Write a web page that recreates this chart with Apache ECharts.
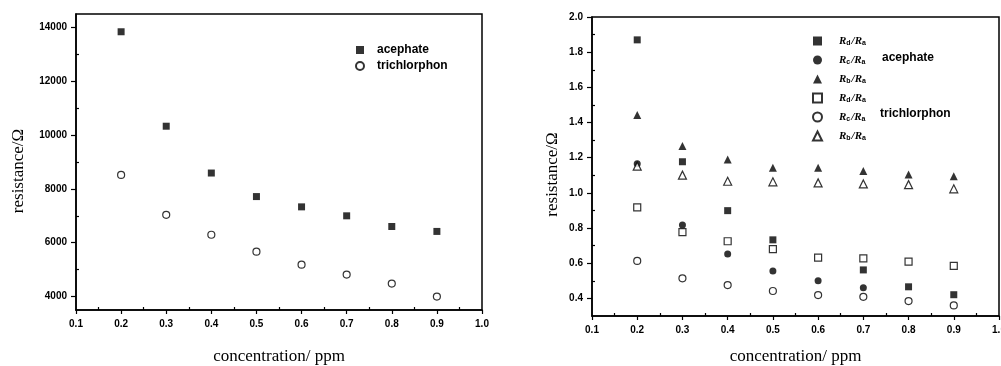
<!DOCTYPE html>
<html>
<head>
<meta charset="utf-8">
<script src="https://cdn.jsdelivr.net/npm/echarts@6/dist/echarts.min.js"></script>
<style>
html,body{margin:0;padding:0;background:#fff;}
#c{width:1001px;height:366px;}
</style>
</head>
<body>
<div id="c"></div>
<script>
// ---- data ----
const concentrations = [0.2, 0.3, 0.4, 0.5, 0.6, 0.7, 0.8, 0.9];
const xTickLabels = [0.1, 0.2, 0.3, 0.4, 0.5, 0.6, 0.7, 0.8, 0.9, 1.0];
const xMinorTicks = [0.15, 0.25, 0.35, 0.45, 0.55, 0.65, 0.75, 0.85, 0.95];

// left chart (resistance / ohm)
const leftAcephate = [13840, 10330, 8590, 7715, 7333, 7000, 6604, 6420];
const leftTrichlorphon = [8519, 7037, 6296, 5667, 5185, 4815, 4481, 4000];
const leftYTicks = [4000, 6000, 8000, 10000, 12000, 14000];
const leftYMinor = [5000, 7000, 9000, 11000, 13000];

// right chart (resistance ratios)
const aceRdRa = [1.87, 1.177, 0.899, 0.733, null, 0.562, 0.466, 0.421];
const aceRcRa = [1.166, 0.818, 0.653, 0.556, 0.501, 0.461, null, null];
const aceRbRa = [1.443, 1.266, 1.19, 1.143, 1.143, 1.124, 1.105, 1.095];
const triRdRa = [0.918, 0.777, 0.725, 0.68, 0.632, 0.628, 0.609, 0.585];
const triRcRa = [0.613, 0.514, 0.476, 0.442, 0.419, 0.409, 0.385, 0.36];
const triRbRa = [1.152, 1.101, 1.066, 1.063, 1.057, 1.051, 1.047, 1.023];
const rightYTicks = [0.4, 0.6, 0.8, 1.0, 1.2, 1.4, 1.6, 1.8, 2.0];
const rightYMinor = [0.5, 0.7, 0.9, 1.1, 1.3, 1.5, 1.7, 1.9];

const leftNames = ['acephate', 'trichlorphon'];
const rightNames = ['acephate Rd/Ra', 'acephate Rc/Ra', 'acephate Rb/Ra',
                    'trichlorphon Rd/Ra', 'trichlorphon Rc/Ra', 'trichlorphon Rb/Ra'];
const rightSubs = ['d', 'c', 'b', 'd', 'c', 'b'];

function pairs(ys) {
  const out = [];
  ys.forEach((y, i) => { if (y !== null) out.push([concentrations[i], y]); });
  return out;
}

const tickFont = {fontFamily: 'Liberation Sans', fontWeight: 'bold', fontSize: 10, color: '#000'};
const nameFont = {fontFamily: 'Liberation Serif', fontSize: 17, color: '#000'};
const line = {show: true, lineStyle: {color: '#000', width: 1.5}};

function xAxes(grid, gap) {
  return [
    {type: 'value', gridIndex: grid, min: 0.1, max: 1.0,
     name: 'concentration/ ppm', nameLocation: 'middle', nameGap: gap, nameTextStyle: nameFont,
     axisLine: line, splitLine: {show: false},
     axisTick: {show: true, inside: false, length: 4, customValues: xTickLabels, lineStyle: {color: '#000', width: 1.2}},
     axisLabel: Object.assign({customValues: xTickLabels, margin: 9, formatter: v => v.toFixed(1)}, tickFont)},
    {type: 'value', gridIndex: grid, min: 0.1, max: 1.0, position: 'bottom',
     axisLine: {show: false}, splitLine: {show: false}, axisLabel: {show: false},
     axisTick: {show: true, inside: true, length: 3, customValues: xMinorTicks, lineStyle: {color: '#000', width: 1.2}}}
  ];
}

function yAxes(grid, min, max, ticks, minor, gap, fmt, shift) {
  return [
    {type: 'value', gridIndex: grid, min: min, max: max,
     name: 'resistance/Ω', nameLocation: 'middle', nameGap: gap,
     nameTextStyle: Object.assign({padding: [0, shift, 0, 0]}, nameFont),
     axisLine: line, splitLine: {show: false},
     axisTick: {show: true, inside: false, length: 5, customValues: ticks, lineStyle: {color: '#000', width: 1.2}},
     axisLabel: Object.assign({customValues: ticks, margin: 9, formatter: fmt}, tickFont)},
    {type: 'value', gridIndex: grid, min: min, max: max, position: 'left', offset: 0,
     axisLine: {show: false}, splitLine: {show: false}, axisLabel: {show: false},
     axisTick: {show: true, inside: true, length: 3, customValues: minor, lineStyle: {color: '#000', width: 1.2}}}
  ];
}

const filled = {color: '#000'};
const open = {color: '#fff', borderColor: '#000', borderWidth: 1.2};

function sc(name, xi, yi, data, symbol, size, style) {
  return {type: 'scatter', name: name, xAxisIndex: xi, yAxisIndex: yi, data: pairs(data),
          symbol: symbol, symbolSize: size, itemStyle: style, silent: true, z: 5};
}

const legendText = {fontFamily: 'Liberation Sans', fontWeight: 'bold', fontSize: 12, color: '#000'};

const option = {
  animation: false,
  backgroundColor: '#fff',
  grid: [
    {left: 76, top: 14, width: 406, height: 296, show: true, borderColor: '#000', borderWidth: 1.5,
     backgroundColor: 'transparent', containLabel: false, outerBoundsMode: 'none'},
    {left: 592, top: 17, width: 407, height: 299, show: true, borderColor: '#000', borderWidth: 1.5,
     backgroundColor: 'transparent', containLabel: false, outerBoundsMode: 'none'}
  ],
  xAxis: [].concat(xAxes(0, 38), xAxes(1, 32)),
  yAxis: [].concat(
    yAxes(0, 3500, 14500, leftYTicks, leftYMinor, 49, v => String(v), 18),
    yAxes(1, 0.3, 2.0, rightYTicks, rightYMinor, 31, v => v.toFixed(1), 16)
  ),
  legend: [
    {data: leftNames, left: 350, top: 39, orient: 'vertical', itemWidth: 8, itemHeight: 8, itemGap: 4,
     selectedMode: false, textStyle: Object.assign({padding: [0, 0, 0, 8]}, legendText)},
    {data: rightNames, left: 807, top: 29, orient: 'vertical', itemWidth: 9, itemHeight: 9, itemGap: 6,
     selectedMode: false,
     formatter: function (n) { const i = rightNames.indexOf(n); return '{r|R}{s|' + rightSubs[i] + '}{r|/R}{s|a}'; },
     textStyle: {padding: [0, 0, 0, 12], rich: {
       r: {fontFamily: 'Liberation Serif', fontStyle: 'italic', fontWeight: 'bold', fontSize: 11, color: '#000', lineHeight: 12},
       s: {fontFamily: 'Liberation Sans', fontWeight: 'bold', fontSize: 7, color: '#000', lineHeight: 12, verticalAlign: 'bottom', padding: [6, 1, 0, 0]}
     }}}
  ],
  graphic: [
    {type: 'text', left: 882, top: 52, style: {text: 'acephate', fill: '#000', font: 'bold 12px "Liberation Sans"'}},
    {type: 'text', left: 880, top: 108, style: {text: 'trichlorphon', fill: '#000', font: 'bold 12px "Liberation Sans"'}}
  ],
  series: [
    sc(leftNames[0], 0, 0, leftAcephate, 'rect', 7, filled),
    sc(leftNames[1], 0, 0, leftTrichlorphon, 'circle', 7, open),
    sc(rightNames[0], 2, 2, aceRdRa, 'rect', 7, filled),
    sc(rightNames[1], 2, 2, aceRcRa, 'circle', 7, filled),
    sc(rightNames[2], 2, 2, aceRbRa, 'triangle', 8, filled),
    sc(rightNames[3], 2, 2, triRdRa, 'rect', 7, open),
    sc(rightNames[4], 2, 2, triRcRa, 'circle', 7, open),
    sc(rightNames[5], 2, 2, triRbRa, 'triangle', 8, open)
  ]
};

const chart = echarts.init(document.getElementById('c'), null, {renderer: 'canvas'});
chart.setOption(option);
</script>
</body>
</html>
